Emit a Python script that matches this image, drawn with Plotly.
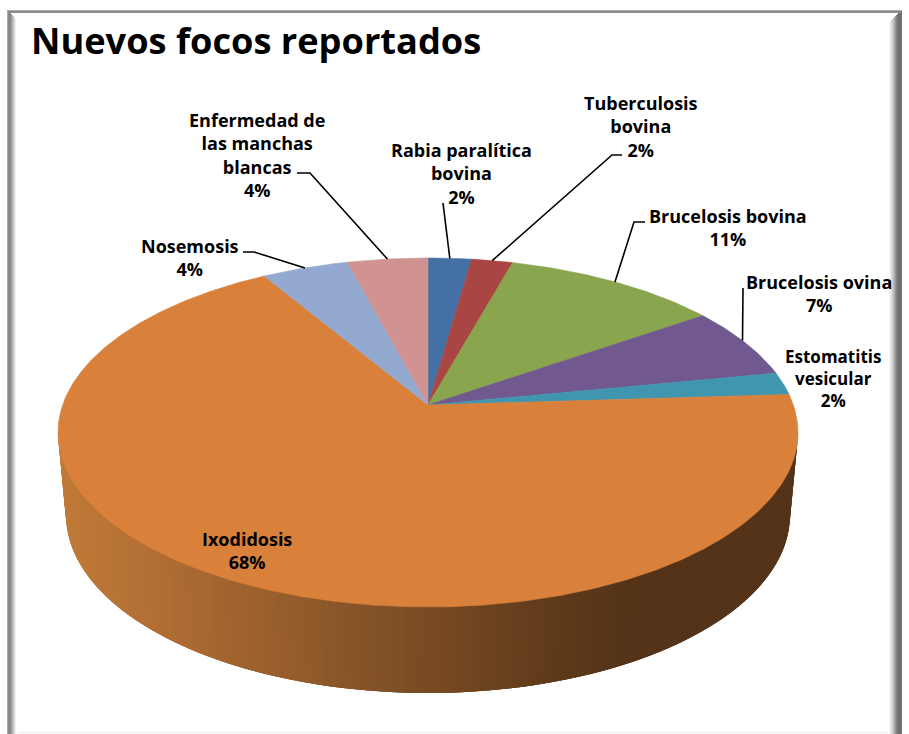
import math
import plotly.graph_objects as go

categories = ["Rabia paralítica bovina", "Tuberculosis bovina", "Brucelosis bovina", "Brucelosis ovina",
              "Estomatitis vesicular", "Ixodidosis", "Nosemosis", "Enfermedad de las manchas blancas"]
values = [2.2, 2.1, 11.0, 6.6, 2.1, 67.5, 4.4, 4.1]
colors = ["#4470A5", "#A94643", "#89A54E", "#71588F", "#4096AE", "#D9803A", "#93A9CF", "#D19392"]
title_text = "Nuevos focos reportados"
label_lines = ["Rabia paralítica<br>bovina", "Tuberculosis<br>bovina", "Brucelosis bovina", "Brucelosis ovina",
               "Estomatitis<br>vesicular", "Ixodidosis", "Nosemosis", "Enfermedad de<br>las manchas<br>blancas"]
# label centre (x, y of the middle of the block), in page pixels
label_pos = [(461, 173), (641, 126), (728, 227), (819, 293), (833, 378), (247, 550), (190, 257), (257, 155)]
label_sizes = [18, 18, 18, 18, 17, 18, 18, 18]
# leader: page-pixel elbow points, the rim end is computed from the slice (with an angle nudge)
leaders = {0: ([(443, 203)], 0), 1: ([(622, 155), (612, 155)], 0), 2: ([(645, 222), (634, 222)], 0),
           3: ([(743, 288)], -0.7), 6: ([(243, 252), (254, 252)], 0), 7: ([(297, 173), (310, 173)], 0)}

FONT = "Open Sans"
W, H = 909, 734
CX, AY = 428, 405      # apex of the pie
UP, DOWN, HALF = 147, 202, 370   # perspective extents
K = (DOWN - UP) / (DOWN + UP)
A = UP * (1 + K)
B = HALF * math.sqrt(1 - K * K)


def rim(deg):
    """Perspective position on the pie's rim; deg clockwise from twelve o'clock."""
    r = math.radians(deg)
    X, Y = math.sin(r), math.cos(r)
    den = 1 + K * Y
    return CX + B * X / den, AY - A * Y / den


fig = go.Figure()


def poly(xs, ys, color, lw=0.6):
    fig.add_trace(go.Scatter(x=xs, y=ys, mode="lines", fill="toself", fillcolor=color,
                             line=dict(color=color, width=lw), hoverinfo="skip", showlegend=False))


# side wall of the pie: strips between the top and bottom rims
stops = [(60, (192, 122, 56)), (150, (178, 110, 52)), (300, (146, 91, 43)), (430, (120, 74, 35)),
         (560, (94, 58, 26)), (630, (84, 51, 24)), (800, (84, 51, 24))]


def wall_color(x):
    for (x0, c0), (x1, c1) in zip(stops, stops[1:]):
        if x <= x1:
            f = max(0, (x - x0) / (x1 - x0))
            return "rgb(%d,%d,%d)" % tuple(round(a + (b - a) * f) for a, b in zip(c0, c1))
    return "rgb(84,51,24)"


TOP = (428, 432, 370, 174.5)
BOT = (428, 515, 362, 178)


def ell(e, t):
    return e[0] + e[2] * math.cos(t), e[1] + e[3] * math.sin(t)


# painted right to left; every strip overlaps the next so that no seam shows
N = 150
for i in range(N):
    ts = [math.pi * j / N for j in range(i, min(N, i + 3) + 1)]
    top = [ell(TOP, t) for t in ts]
    bot = [ell(BOT, t) for t in reversed(ts)]
    ring = top + bot + top[:1]
    poly([p[0] for p in ring], [p[1] for p in ring], wall_color((top[0][0] + top[1][0]) / 2), lw=0)

# top face
total = sum(values)
start = 0.0
mids = []
for v, c in zip(values, colors):
    end = start + v / total * 360
    n = max(2, int((end - start) * 2))
    pts = [rim(start + (end - start) * j / n) for j in range(n + 1)]
    poly([CX] + [p[0] for p in pts] + [CX], [AY] + [p[1] for p in pts] + [AY], c)
    mids.append((start + end) / 2)
    start = end

# leader lines
for idx, (elbows, nudge) in leaders.items():
    e = rim(mids[idx] + nudge)
    fig.add_trace(go.Scatter(x=[p[0] for p in elbows] + [e[0]], y=[p[1] for p in elbows] + [e[1]],
                             mode="lines", line=dict(color="#000000", width=1.6),
                             hoverinfo="skip", showlegend=False))

annotations = []
for name, v, (x, y), size in zip(label_lines, values, label_pos, label_sizes):
    annotations.append(dict(x=x, y=y, xref="x", yref="y", showarrow=False, align="center",
                            text="<b>%s<br>%d%%</b>" % (name, round(v / total * 100)),
                            font=dict(family=FONT, size=size, color="#000000")))
annotations.append(dict(x=29, y=39.5, xref="x", yref="y", xanchor="left", yanchor="middle", showarrow=False,
                        text="<b>%s</b>" % title_text, font=dict(family=FONT, size=36.2, color="#000000")))

# chart frame
shapes = [dict(type="rect", xref="x", yref="y", x0=18, x1=890, y0=732, y1=733,
               line=dict(width=0), fillcolor="#EDEDED", layer="below")]
left_greys = [170, 140, 130, 140, 160, 180, 200, 220, 240]
right_greys = [115, 110, 110, 115, 120, 130, 150, 170, 190, 205, 220, 235, 245]
for i, g in enumerate(left_greys):
    shapes.append(dict(type="rect", xref="x", yref="y", x0=7 + i, x1=8 + i, y0=10 + i, y1=734,
                       line=dict(width=0), fillcolor="rgb(%d,%d,%d)" % (g, g, g), layer="below"))
for i, g in enumerate(right_greys):
    shapes.append(dict(type="rect", xref="x", yref="y", x0=902 - i - 1, x1=902 - i, y0=10 + i, y1=734,
                       line=dict(width=0), fillcolor="rgb(%d,%d,%d)" % (g, g, g), layer="below"))
shapes.append(dict(type="rect", xref="x", yref="y", x0=7, x1=902, y0=10, y1=11,
                   line=dict(width=0), fillcolor="#A8A8A8", layer="below"))
shapes.append(dict(type="rect", xref="x", yref="y", x0=8, x1=901, y0=11, y1=13,
                   line=dict(width=0), fillcolor="#8C8C8C", layer="below"))

fig.update_layout(width=W, height=H, margin=dict(l=0, r=0, t=0, b=0), paper_bgcolor="#FFFFFF",
                  plot_bgcolor="#FFFFFF", showlegend=False, annotations=annotations, shapes=shapes,
                  xaxis=dict(range=[0, W], visible=False, fixedrange=True),
                  yaxis=dict(range=[H, 0], visible=False, fixedrange=True))
fig.write_html("out.html", config={"displayModeBar": False}, post_script="document.body.style.margin='0';")
